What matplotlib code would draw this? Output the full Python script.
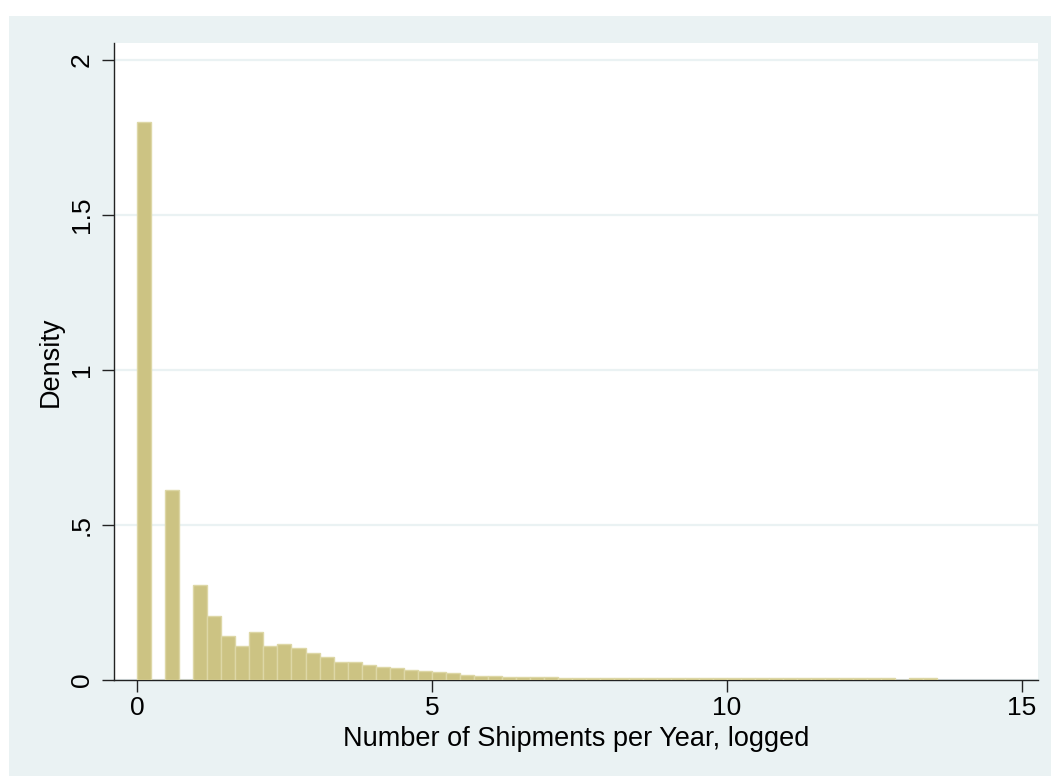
import numpy as np
import matplotlib
matplotlib.use("Agg")
import matplotlib.pyplot as plt
from matplotlib.patches import Rectangle

# histogram of logged shipments per year (density)
bin_width = 0.238
density = [1.80, 0.0, 0.612, 0.0, 0.306, 0.208, 0.141, 0.111, 0.155, 0.110,
           0.115, 0.104, 0.088, 0.073, 0.059, 0.059, 0.048, 0.041, 0.038, 0.032,
           0.028, 0.025, 0.021, 0.017, 0.013, 0.013, 0.011, 0.0095, 0.0088, 0.0082,
           0.0078, 0.0074, 0.0070, 0.0068, 0.0066, 0.0064, 0.0062, 0.0061, 0.0060, 0.0060,
           0.0059, 0.0059, 0.0058, 0.0058, 0.0058, 0.0057, 0.0057, 0.0057, 0.0056, 0.0056,
           0.0056, 0.0056, 0.0055, 0.0055, 0.0, 0.0058, 0.0058]
x_ticks = [0, 5, 10, 15]
y_ticks = [0, 0.5, 1, 1.5, 2]
y_tick_labels = ["0", ".5", "1", "1.5", "2"]

bg = "#EAF2F3"
fill = "#CCC383"
edge = "#DDD7A6"

plt.rcParams['font.family'] = ['Liberation Sans', 'DejaVu Sans']

fig = plt.figure(figsize=(10.51, 7.76), dpi=100, facecolor="white")
# stata-style outer region (image is cropped, white strip at top and left)
outer = Rectangle((9 / 1051, 0), 1 - 9 / 1051, 1 - 16 / 776,
                  transform=fig.transFigure, facecolor=bg,
                  edgecolor="none", zorder=-10)
fig.add_artist(outer)

ax = fig.add_axes([114 / 1051, 96 / 776, 924 / 1051, 637 / 776])
ax.set_zorder(1)
ax.set_facecolor("white")

bin_left = np.arange(len(density)) * bin_width
ax.bar(bin_left, density, width=bin_width, align="edge", color=fill,
       edgecolor=edge, linewidth=1.0, zorder=3)

ax.set_xlim(-0.39, 15.27)
ax.set_ylim(0, 2.055)
ax.set_xticks(x_ticks)
ax.set_yticks(y_ticks)
ax.set_yticklabels(y_tick_labels, rotation=90, va="center")
ax.yaxis.grid(True, color=bg, linewidth=1.6, zorder=1)
ax.set_axisbelow(True)

for s in ["top", "right"]:
    ax.spines[s].set_visible(False)
for s in ["left", "bottom"]:
    ax.spines[s].set_color("#222222")
    ax.spines[s].set_linewidth(1.0)

ax.tick_params(axis="both", length=8.5, width=1.0, color="#222222",
               labelsize=19, direction="out")
ax.tick_params(axis="y", pad=6)
ax.tick_params(axis="x", pad=3)

ax.set_xlabel("Number of Shipments per Year, logged", fontsize=19.5, labelpad=4)
ax.set_ylabel("Density", fontsize=19.5, labelpad=4.5)

fig.savefig("out.png", dpi=100, facecolor=fig.get_facecolor())
